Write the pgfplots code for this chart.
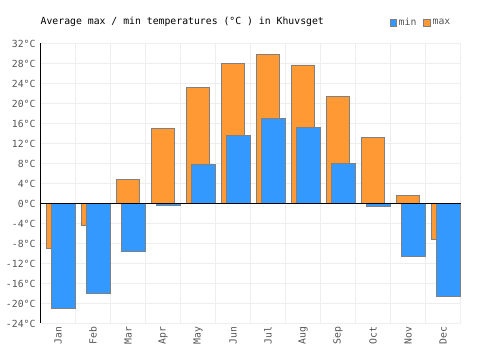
\documentclass[border=0pt]{standalone}
\usepackage{fontspec}
\setmainfont{DejaVu Sans Mono}
\usepackage{pgfplots}
\pgfplotsset{compat=1.18}
\definecolor{cmax}{HTML}{FF9933}
\definecolor{cmin}{HTML}{3399FF}
\definecolor{bord}{HTML}{808080}
\definecolor{gridc}{HTML}{EEEEEE}
\definecolor{lab}{HTML}{555555}
\begin{document}
\begin{tikzpicture}
\useasboundingbox (-40.5pt,-26.5pt) rectangle (459.5pt,323.5pt);
\begin{axis}[
  at={(0pt,0pt)}, anchor=south west,
  scale only axis, width=420pt, height=280pt,
  xmin=-0.5, xmax=11.5, ymin=-24, ymax=32,
  xtick={0,...,11},
  xticklabels={Jan,Feb,Mar,Apr,May,Jun,Jul,Aug,Sep,Oct,Nov,Dec},
  xticklabel style={rotate=90, anchor=east, text=lab, font=\fontsize{9.8}{11}\selectfont},
  ytick={-24,-20,...,32},
  yticklabels={-24°C,-20°C,-16°C,-12°C,-8°C,-4°C,0°C,4°C,8°C,12°C,16°C,20°C,24°C,28°C,32°C},
  yticklabel style={text=lab, xshift=-1.5pt, font=\fontsize{9.8}{11}\selectfont},
  minor xtick={-0.5,0.5,...,11.5},
  xminorgrids, ymajorgrids,
  grid style={gridc, line width=1pt},
  minor grid style={gridc, line width=1pt},
  major tick length=0pt, minor tick length=0pt,
  axis line style={draw=none},
  clip=false,
  title={Average max / min temperatures (°C ) in Khuvsget},
  title style={at={(0,1)}, anchor=west, yshift=15.5pt, inner sep=0pt, font=\fontsize{9.8}{11}\selectfont},
  legend style={at={(1,1)}, anchor=east, xshift=-8pt, yshift=20.5pt, draw=none, fill=none,
    font=\fontsize{9.8}{11}\selectfont, text=lab, inner sep=0pt,
    /tikz/every even column/.append style={column sep=5pt}},
  legend columns=2,
  reverse legend,
  legend image code/.code={\draw[#1] (0pt,-3.2pt) rectangle (6.4pt,3.2pt);},
]
\addplot[ybar, bar width=22.4pt, bar shift=0pt, fill=cmax, draw=bord, line width=0.8pt] coordinates {
(0,-9.0) (1,-4.4) (2,4.8) (3,15.0) (4,23.2) (5,28.0) (6,29.8) (7,27.7) (8,21.4) (9,13.2) (10,1.6) (11,-7.2)};
\addlegendentry{max}
\addplot[ybar, bar width=23.4pt, bar shift=5.5pt, fill=cmin, draw=bord, line width=0.8pt] coordinates {
(0,-21.0) (1,-18.0) (2,-9.6) (3,-0.4) (4,7.8) (5,13.6) (6,17.0) (7,15.2) (8,8.0) (9,-0.6) (10,-10.6) (11,-18.6)};
\addlegendentry{min}
\draw[black, line width=0.8pt] (axis cs:-0.5,0) -- (axis cs:11.5,0);
\draw[black, line width=0.8pt] (axis cs:-0.5,-24) -- (axis cs:-0.5,32);
\end{axis}
\end{tikzpicture}
\end{document}
